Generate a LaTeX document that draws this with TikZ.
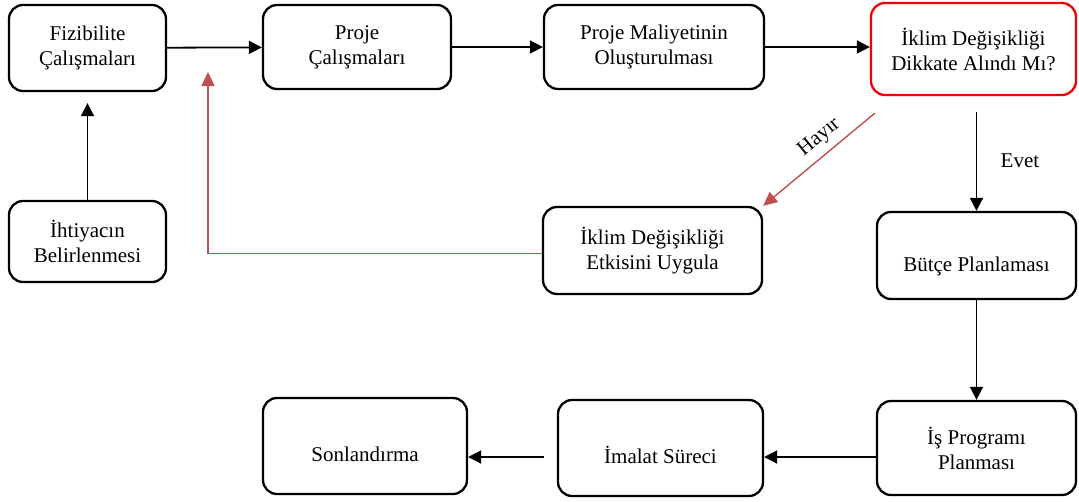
\documentclass[tikz,border=0pt]{standalone}
\usepackage{fontspec}
\setmainfont{Liberation Serif}
\usetikzlibrary{positioning,arrows.meta}
\definecolor{backred}{RGB}{192,80,77}
\definecolor{askred}{RGB}{240,0,0}
\tikzset{
  flowbox/.style={draw, line width=2.3pt, rounded corners=14pt, align=center,
    font=\fontsize{21}{25}\selectfont, inner sep=0pt, fill=white},
  askbox/.style={flowbox, draw=askred},
  lowtext/.style={text height=36pt, text depth=5pt},
  flowarrow/.style={-{Triangle[length=13pt,width=13pt]}, line width=1.8pt},
  backarrow/.style={-{Triangle[length=14pt,width=13pt]}, line width=1.4pt, draw=backred, color=backred},
  flowlabel/.style={font=\fontsize{21}{25}\selectfont},
}

\begin{document}
\begin{tikzpicture}[x=1pt, y=-1pt]
  \useasboundingbox (0,0) rectangle (1079,501);
  % top row
  \node[flowbox, minimum width=157pt, minimum height=86pt] (fiz) at (87.5,48) {Fizibilite\\Çalışmaları};
  \node[flowbox, minimum width=188pt, minimum height=84pt] (proje) at (357,47) {Proje\\Çalışmaları};
  \node[flowbox, minimum width=220pt, minimum height=84pt] (maliyet) at (654,47) {Proje Maliyetinin\\Oluşturulması};
  \node[askbox, minimum width=205pt, minimum height=92pt] (iklim) at (973.5,49) {İklim Değişikliği\\Dikkate Alındı Mı?};
  % middle row
  \node[flowbox, minimum width=157pt, minimum height=81pt] (iht) at (87.5,241.5) {İhtiyacın\\Belirlenmesi};
  \node[flowbox, minimum width=219pt, minimum height=87pt] (apply) at (652.5,250.5) {İklim Değişikliği\\Etkisini Uygula};
  \node[flowbox, lowtext, minimum width=199pt, minimum height=87pt] (budget) at (976.5,255.5) {Bütçe Planlaması};
  % bottom row
  \node[flowbox, minimum width=199pt, minimum height=94pt] (isprog) at (976.5,448) {İş Programı\\Planması};
  \node[flowbox, lowtext, minimum width=205pt, minimum height=96pt] (imalat) at (660.5,448) {İmalat Süreci};
  \node[flowbox, lowtext, minimum width=204pt, minimum height=96pt] (sonl) at (365,446) {Sonlandırma};

  \coordinate (fbend) at (208,72);
  \coordinate (hayirstart) at ([xshift=5pt,yshift=-17pt]iklim.south west);

  \draw[flowarrow] (fiz) -- (proje);
  \draw[flowarrow] (proje) -- (maliyet);
  \draw[flowarrow] (maliyet.east) -- (maliyet.east -| iklim.west);
  \draw[flowarrow, shorten >=11pt] (iht) -- (fiz);
  \draw[backarrow] ([yshift=-3pt]apply.west) -| (fbend);
  \draw[backarrow] (hayirstart) -- (apply.north east)
    node[pos=0.4, above, sloped, flowlabel, text=black, inner sep=7pt] {Hayır};
  \draw[flowarrow, shorten <=16pt] (budget.north |- iklim.south) -- (budget.north)
    node[midway, right=20pt, yshift=-7pt, flowlabel] {Evet};
  \draw[flowarrow] (budget) -- (isprog);
  \draw[flowarrow] ([yshift=-9pt]isprog.west) -- ([yshift=-9pt]isprog.west -| imalat.east);
  \draw[flowarrow, shorten <=13pt] ([yshift=-9pt]imalat.west) -- ([yshift=-9pt]imalat.west -| sonl.east);
\end{tikzpicture}
\end{document}
